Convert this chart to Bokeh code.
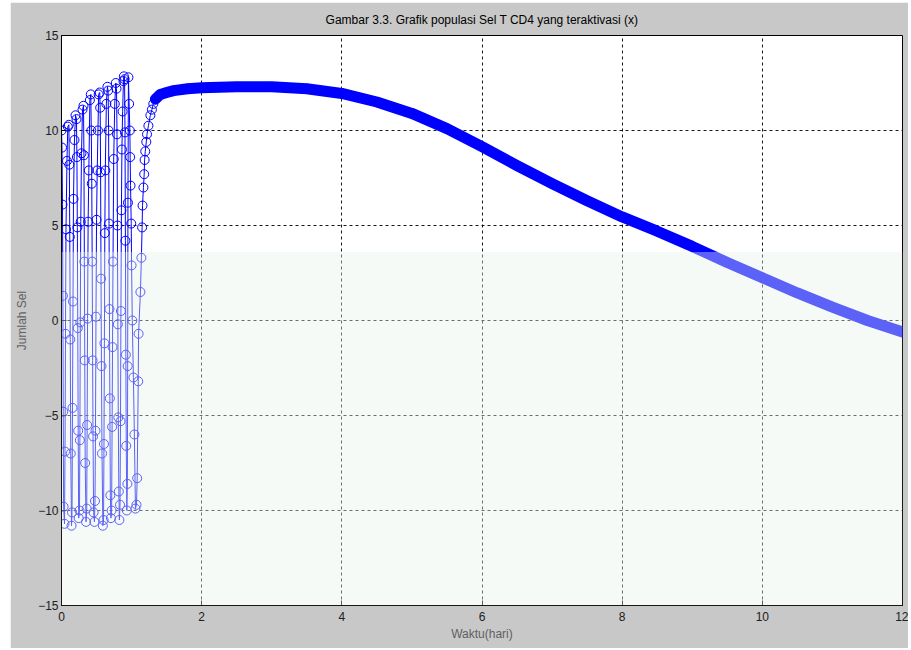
from bokeh.plotting import figure
from bokeh.models import BoxAnnotation, FixedTicker, Spacer
from bokeh.layouts import column, row
from bokeh.embed import file_html
from bokeh.resources import INLINE

# ---- data ----
osc_t = [0.000, 0.007, 0.014, 0.020, 0.025, 0.030, 0.043,
         0.050, 0.057, 0.064, 0.078, 0.090, 0.105,
         0.112, 0.118, 0.125, 0.132, 0.143,
         0.150, 0.157, 0.164, 0.171, 0.185, 0.200,
         0.214, 0.220, 0.226, 0.232, 0.238, 0.245,
         0.257, 0.262, 0.268, 0.275, 0.285, 0.300,
         0.314, 0.320, 0.326, 0.332, 0.338, 0.350,
         0.360, 0.366, 0.372, 0.380, 0.390, 0.405,
         0.418, 0.425, 0.432, 0.438, 0.444, 0.450, 0.458, 0.470,
         0.478, 0.485, 0.492, 0.500, 0.510, 0.520, 0.530,
         0.545, 0.552, 0.558, 0.564, 0.570, 0.578, 0.590,
         0.600, 0.606, 0.612, 0.618, 0.625, 0.640, 0.655,
         0.665, 0.672, 0.678, 0.684, 0.690, 0.697, 0.705,
         0.715, 0.722, 0.728, 0.735, 0.745, 0.760, 0.775,
         0.785, 0.792, 0.798, 0.804, 0.810, 0.818, 0.826,
         0.835, 0.842, 0.848, 0.855, 0.862, 0.872, 0.884, 0.890,
         0.900, 0.906, 0.912, 0.918, 0.924, 0.932,
         0.940, 0.944, 0.948, 0.955,
         0.965, 0.975, 0.980, 0.985, 0.995, 1.000, 1.010, 1.026, 1.040, 1.055,
         1.070, 1.080, 1.095, 1.100, 1.126, 1.140, 1.150, 1.156, 1.169,
         1.180, 1.186, 1.195, 1.210, 1.220, 1.240, 1.268, 1.290, 1.310]
osc_x = [10.0, 9.1, 6.1, 1.3, -4.8, -9.8, -10.7,
         -6.9, -0.7, 4.8, 8.4, 10.2, 10.3,
         8.2, 4.4, -1.0, -7.0, -10.8,
         -10.1, -4.6, 1.0, 6.4, 9.5, 10.8,
         10.6, 8.6, 4.9, -0.4, -5.8, -10.4,
         -10.0, -6.3, -0.1, 5.2, 8.8, 11.1,
         11.3, 8.7, 3.1, -2.1, -7.5, -10.6,
         -9.9, -5.5, 0.1, 5.2, 7.9, 11.6,
         11.9, 10.0, 7.2, 3.1, -2.1, -6.1, -10.1, -10.6,
         -9.5, -5.8, 0.2, 5.3, 7.9, 10.0, 11.9,
         12.0, 11.2, 7.8, 2.2, -2.4, -7.0, -10.8,
         -10.5, -6.5, -1.2, 4.6, 7.9, 11.4, 12.3,
         12.1, 10.0, 5.1, 0.6, -4.1, -9.2, -10.4,
         -10.0, -5.6, -1.4, 3.1, 8.5, 11.4, 12.5,
         12.2, 9.8, 5.0, -0.2, -5.1, -9.0, -10.5,
         -9.7, -5.3, 0.5, 5.8, 9.0, 11.0, 12.6, 12.85,
         12.7, 9.9, 4.2, -1.8, -6.6, -10.0,
         -8.6, -2.4, 6.2, 12.8,
         11.4, 10.0, 8.6, 7.1, 5.1, 2.9, 0.0, -3.0, -6.0, -9.9,
         -9.7, -8.3, -3.2, -0.7, 1.5, 3.3, 4.9, 6.05, 7.0,
         7.7, 8.45, 8.9, 9.4, 9.8, 10.25, 10.8, 11.1, 11.4]

smooth_t = [1.34, 1.41, 1.50, 1.60, 1.80, 2.0, 2.5, 3.0, 3.5, 4.0, 4.5, 5.0,
            5.5, 6.0, 6.5, 7.0, 7.5, 8.0, 8.5, 9.0, 9.5, 10.0, 10.5, 11.0,
            11.5, 12.0]
smooth_x = [11.65, 11.9, 12.0, 12.1, 12.2, 12.25, 12.3, 12.3, 12.2, 11.95,
            11.5, 10.9, 10.1, 9.15, 8.15, 7.2, 6.3, 5.45, 4.7, 3.9, 3.05, 2.25,
            1.45, 0.7, 0.0, -0.6]

x_ticks = [0, 2, 4, 6, 8, 10, 12]
y_ticks = [-15, -10, -5, 0, 5, 10, 15]

title = "Gambar 3.3. Grafik populasi Sel T CD4 yang teraktivasi (x)"
FONT = "Liberation Sans"

p = figure(width=898, height=646, x_range=(0, 12), y_range=(-15, 15),
           output_backend="svg", toolbar_location=None,
           background_fill_color="white", border_fill_color="#c8c8c8",
           min_border_left=51, min_border_right=6, min_border_top=33,
           min_border_bottom=43)

p.title.text = title
p.title.align = "center"
p.title.vertical_align = "middle"
p.title.text_font = FONT
p.title.text_font_size = "12px"
p.title.text_font_style = "normal"
p.title.text_color = "black"
p.title.standoff = 16

p.outline_line_color = "black"
p.outline_line_width = 1

for ax, ticks in ((p.xaxis, x_ticks), (p.yaxis, y_ticks)):
    ax.ticker = FixedTicker(ticks=ticks)
    ax.minor_tick_line_color = None
    ax.major_tick_in = 5
    ax.major_tick_out = 0
    ax.axis_line_color = "black"
    ax.major_tick_line_color = "black"
    ax.major_label_text_font = FONT
    ax.major_label_text_font_size = "12px"
    ax.major_label_text_color = "#202020"
    ax.axis_label_text_font = FONT
    ax.axis_label_text_font_size = "12px"
    ax.axis_label_text_font_style = "normal"
    ax.axis_label_text_color = "#606060"

p.xaxis.axis_label = "Waktu(hari)"
p.yaxis.axis_label = "Jumlah Sel"
p.xaxis.major_label_standoff = 6
p.xaxis.axis_label_standoff = 3
p.yaxis.major_label_standoff = 3
p.yaxis.axis_label_standoff = 6

p.grid.grid_line_color = "black"
p.grid.grid_line_dash = "3 3"
p.grid.grid_line_width = 1
p.grid.grid_line_alpha = 0.9

all_t = osc_t + smooth_t
all_x = osc_x + smooth_x

p.line(smooth_t, smooth_x, line_color="blue", line_width=11,
       line_cap="round", line_join="round")
p.line(all_t, all_x, line_color="blue", line_width=1)
p.scatter(all_t, all_x, marker="circle", size=9, fill_color=None,
          line_color="blue", line_width=1)

# watermark tint over the lower part of the plot
wm = BoxAnnotation(top=3.6, fill_color="#e6f2ea", fill_alpha=0.4,
                   line_color=None, level="overlay")
p.add_layout(wm)

layout = column(Spacer(height=2), row(Spacer(width=10), p))
open("out.html", "w").write(file_html(layout, INLINE))
